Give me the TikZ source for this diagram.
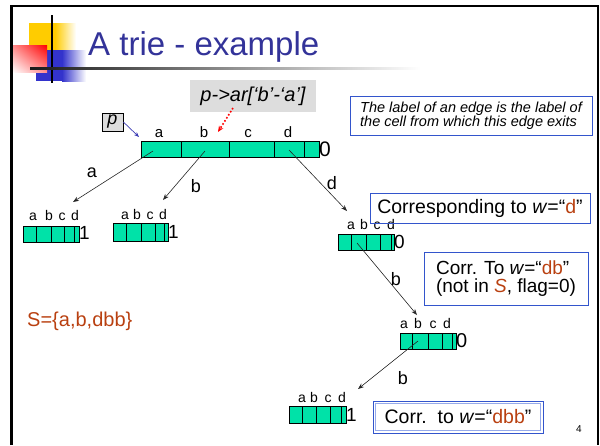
\documentclass[tikz,border=0pt]{standalone}
\usepackage{fontspec}
\setmainfont{Liberation Sans}
\usetikzlibrary{arrows.meta,shadings}
\definecolor{cellgreen}{RGB}{0,226,168}
\definecolor{titleblue}{RGB}{51,51,153}
\definecolor{boxblue}{RGB}{51,85,204}
\definecolor{lightboxblue}{RGB}{150,170,235}
\definecolor{brownish}{RGB}{185,64,16}
\definecolor{tipgray}{RGB}{221,221,221}
\definecolor{decoyellow}{RGB}{255,204,0}
\definecolor{decoblue}{RGB}{51,51,204}
\definecolor{arrowblue}{RGB}{60,60,180}
\newcommand\fs[1]{\fontsize{#1}{#1}\selectfont}
\newcommand\triecells[6]{%
  \node[arr, minimum width={#4-#2}, minimum height={#5-#3}] (#1) at ({(#2+#4)/2},{(#3+#5)/2}) {};
  \foreach \d in {#6} \draw[cellline] (\d,#3) -- (\d,#5);
}
\newcommand\trielabels[7]{%
  \node[#7, anchor=base] (#1-a) at (#3,#2) {a};
  \node[#7, anchor=base] (#1-b) at (#4,#2) {b};
  \node[#7, anchor=base] (#1-c) at (#5,#2) {c};
  \node[#7, anchor=base] (#1-d) at (#6,#2) {d};
}
\begin{document}
\begin{tikzpicture}[x=1pt,y=-1pt,
  arr/.style={draw=black, line width=0.8, fill=cellgreen, inner sep=0, outer sep=0},
  cellline/.style={line width=0.8},
  edgeline/.style={line width=0.6, draw=black!85, -{Stealth[length=6,width=4.5]}},
  rootlbl/.style={font=\fs{15}, inner sep=0},
  lbl/.style={font=\fs{14}, inner sep=0},
  flagtxt/.style={font=\fs{19}, inner sep=0, anchor=west},
  edgelbl/.style={font=\fs{18}, inner sep=0},
  infobox/.style={draw=boxblue, line width=1, inner sep=0, outer sep=0},
]
\useasboundingbox (0,0) rectangle (600,445);
% title decoration
\fill[decoyellow] (29,23) rectangle (55,50);
\shade[left color=decoyellow, right color=white] (55,23) rectangle (76,50);
\fill[decoblue] (36,50) rectangle (62,81);
\shade[left color=decoblue, right color=white] (62,50) rectangle (86,81);
\shade[upper left=red!45!white, upper right=red, lower left=white, lower right=red!45!white] (12,45) rectangle (47,72);
\draw[line width=1.5] (52,15) -- (52,83);
\shade[left color=black!90, right color=white] (30,67) rectangle (420,69.5);
\node[anchor=base west, inner sep=0, text=titleblue, font=\fs{33}] (title) at (88,55) {A trie - example};
% slide border
\draw[line width=3] (11.5,445) -- (11.5,6);
\draw[line width=2.5] (10,6) -- (598,6) -- (598,445);
% pointer tip box
\node[fill=tipgray, minimum width=126, minimum height=32, inner sep=0, font=\fs{20}\itshape] (tip) at (253,96) {p->ar[‘b’-‘a’]};
\node[fill=tipgray, draw=black, line width=0.8, minimum width=21, minimum height=18, inner sep=0, font=\fs{18}\itshape] (pbox) at (112.5,122) {p};
% root array
\triecells{root}{141}{141}{319}{157}{181,229,274,304}
\trielabels{root}{137}{159}{204}{248}{288}{rootlbl}
\node[flagtxt, font=\fs{21}] (root-flag) at (319,149) {0};
\coordinate (tipstart) at (233,108);
\coordinate (tipend) at (218,132);
\draw[red, dotted, line width=1.6, -{Stealth[length=6,width=5]}] (tipstart) -- (tipend);
\draw[arrowblue, line width=0.7, -{Stealth[length=5,width=4]}] (pbox.east) -- ([shift={(-2,-4)}]root.north west);
% info box
\node[infobox, minimum width=242, minimum height=39, font=\fontsize{14.5}{14}\selectfont\itshape, align=left] (info) at (471,115.5) {The label of an edge is the label of\\the cell from which this edge exits};
% children of root
\triecells{ca}{23}{226}{79}{242}{36,51,64,74}
\trielabels{ca}{220}{33}{49}{62}{75}{lbl}
\node[flagtxt] (ca-flag) at (79,233) {1};
\triecells{cb}{113}{223}{168}{241}{126,141,155,164}
\trielabels{cb}{219}{125}{137}{150}{163}{lbl}
\node[flagtxt] (cb-flag) at (168,232) {1};
\triecells{cd}{338}{234}{394}{250}{351,366,380,391}
\trielabels{cd}{229}{351}{364}{377}{391}{lbl}
\node[flagtxt] (cd-flag) at (394,242) {0};
\triecells{cdb}{400}{333}{456}{349}{412,428,442,452}
\trielabels{cdb}{328}{404}{418}{433}{447}{lbl}
\node[flagtxt, font=\fs{20}] (cdb-flag) at (456,341) {0};
\triecells{cdbb}{289}{406}{346}{423}{302,316,330,341}
\trielabels{cdbb}{402}{302}{314}{328}{342}{lbl}
\node[flagtxt] (cdbb-flag) at (346,415) {1};
% edges
\coordinate (root-acell) at (153,151);
\coordinate (root-bcell) at (205,151);
\coordinate (root-dcell) at (289,150);
\coordinate (cd-bcell) at (357,243);
\coordinate (cdb-bcell) at (418,341);
\coordinate (ca-in) at (73,202);
\coordinate (cb-in) at (163,200);
\coordinate (cd-in) at (347,211);
\coordinate (cdb-in) at (417,315);
\coordinate (cdbb-in) at (358,389);
\draw[edgeline] (root-acell) -- (ca-in);
\draw[edgeline] (root-bcell) -- (cb-in);
\draw[edgeline] (root-dcell) -- (cd-in);
\draw[edgeline] (cd-bcell) -- (cdb-in);
\draw[edgeline] (cdb-bcell) -- (cdbb-in);
\node[edgelbl] (la) at (92,173) {a};
\node[edgelbl] (lb) at (196,186) {b};
\node[edgelbl] (ld) at (332,183) {d};
\node[edgelbl] (ldb) at (396,279) {b};
\node[edgelbl] (ldbb) at (403,378) {b};
% explanation boxes
\node[infobox, minimum width=220, minimum height=30, font=\fs{19.5}] (boxd) at (480,208) {Corresponding to \textit{w}=“\textcolor{brownish}{d}”};
\node[infobox, minimum width=164, minimum height=53, font=\fontsize{19}{18.5}\selectfont, align=left] (boxdb) at (506,278.5) {Corr. To \textit{w}=“\textcolor{brownish}{db}”\\(not in \textcolor{brownish}{\textit{S}}, flag=0)};
\draw[lightboxblue, line width=0.8] (375.5,403.5) rectangle (540.5,430.5);
\node[infobox, minimum width=170, minimum height=32, font=\fs{19.5}] (boxdbb) at (458,417) {Corr.\ \ to \textit{w}=“\textcolor{brownish}{dbb}”};
% set S and page number
\node[anchor=west, inner sep=0, font=\fs{20}, text=brownish] (setS) at (27,321) {S=\{a,b,dbb\}};
\node[inner sep=0, font=\fs{10}] (pagenum) at (579,429) {4};
\end{tikzpicture}
\end{document}
